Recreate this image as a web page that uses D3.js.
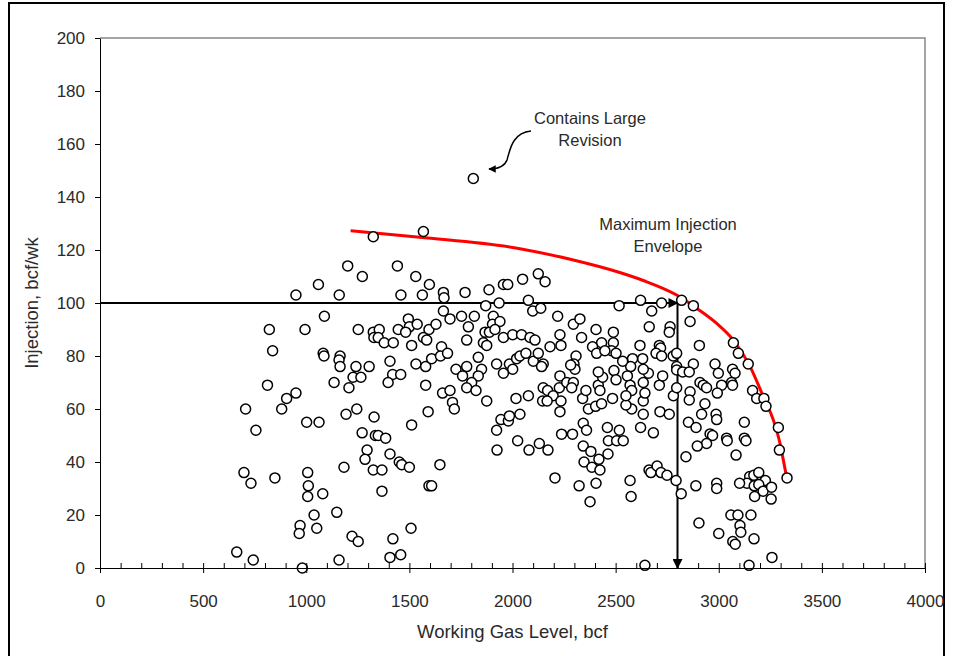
<!DOCTYPE html>
<html>
<head>
<meta charset="utf-8">
<script src="https://cdn.jsdelivr.net/npm/d3@7"></script>
<style>
  body { margin: 0; background: #fff; }
  svg { font-family: "Liberation Sans", Arial, sans-serif; }
  .axis text { font-size: 17px; fill: #2a2a2a; }
  .axis path, .axis line { stroke: #000; }
  .label { font-size: 18.5px; fill: #2a2a2a; }
  .note { font-size: 16.5px; fill: #2a2a2a; }
</style>
</head>
<body>
<svg width="953" height="656"></svg>
<script>
// working gas level (bcf) vs weekly injection (bcf/wk)
var gasLevel = [
  1325,1568,1201,1442,1272,1531,1597,1059,950,1160,1459,1563,1088,821,994,1252,1325,1354,1328,1349,1378,1422,1495,1500,1538,1446,1482,1595,1568,1584,1511,
  837,812,1082,1086,1164,1159,1164,1241,1305,1227,1265,1135,1207,1406,1419,1458,1397,1532,1579,1579,1591,950,905,881,706,756,1002,1062,1193,1245,1329,1511,1271,1335,1349,1385,1295,1406,
  698,732,848,1007,1010,1007,1080,1038,970,966,1051,1148,1183,1222,1252,663,743,981,1159,1420,1406,1458,1508,1367,1325,1367,1285,1451,1463,1500,1595,
  1665,1668,1770,1886,1956,1977,2049,2125,2158,2077,2098,2137,1870,1935,1665,2517,2219,2295,2327,2405,2489,1753,1697,1629,1786,1815,1907,1903,1939,1867,1888,1915,1956,2001,2044,2085,2109,2182,2230,2235,2335,2432,2489,2388,1778,1859,1875,
  1656,2480,1608,1651,1685,1834,1923,1985,2001,1956,2020,2036,2065,2101,2125,2149,2141,2308,2298,2303,2408,2448,2502,1726,1778,1850,1834,1758,1802,1778,1823,1661,1697,1709,1718,1875,2230,2227,2149,2170,2197,2263,2295,2287,2146,2168,2235,2230,2017,2077,2036,1944,1980,1985,1923,2025,2130,2238,2291,2343,2359,2343,2368,2403,2432,2485,2340,2356,2416,2424,2437,2416,2492,2502,2460,2465,2505,2380,2282,
  2621,2723,2675,2820,2877,2861,2663,2764,2760,2618,2712,2906,3071,
  2718,2696,2723,2779,2796,3095,3143,2982,2998,3067,3079,3062,3067,3014,2877,2796,2796,2825,2857,2909,2925,2941,2993,2861,2857,2780,2796,2933,2917,2987,2990,2853,2890,3124,3164,3184,3219,3229,3289,3294,2958,2970,2941,2896,3038,3041,3124,3132,3084,2841,2683,2621,2518,2537,2634,2715,2760,2578,2550,2634,2642,2634,2712,2728,2659,2634,2631,2582,2573,2534,2557,2570,2578,2550,
  1648,1608,2206,2323,2405,2376,2347,2385,2419,2424,2463,1925,2080,2172,
  2662,2671,2701,2720,2749,2793,2818,2570,2575,2904,2889,2990,2990,3000,3150,3170,3194,3226,3137,3101,3172,3194,3215,3256,3254,3174,3059,3093,3156,3103,3107,3068,3080,3171,3258,3147,2642,3331,
  1810
];
var injection = [
  125,127,114,114,110,110,107,107,103,103,103,103,95,90,90,90,89,90,87,87,85,85,94,91,92,90,89,90,87,86,84,
  82,69,81,80,80,78.5,76,76,76,72,72,70,68,78,73,73,70,77,76,69,59,66,64,60,60,52,55,55,58,60,57,54,51,50,50,49,44.5,43,
  36,32,34,36,31,27,28,20,16,13,15,21,38,12,10,6,3,0,3,11,4,5,15,29,37,37,41,40,39,38,31,
  104,102,104,105,107,107,109,111,108,101,97,98,99,100,97,99,95,92,94,90,89,95,94,92,91,95,95,92,93,89,89,90,87,88,88,87,86,83.5,88,84,87,85,85,83.5,86,85,84,
  83.5,82,79,80,81,79.5,77,77,75,73.5,79,80,81,78,81,77,76,80,77,75,81,82,81,75,76,75,72.5,72.5,70,68,67,66,67,62.5,60,63,72.5,68,68,67,65,70,70,68,63,63,63,59,64,65,58,56,55.5,57.4,52,48,47,50.5,50.5,54.6,52,46,60,61,62,64,64,67,69,67,72,74,74.5,71,53,48,48,44,76.6,
  101,100,97,101,99,93,91,91,89,84,84,84,85,
  83,81,80,80,81,81,77,77,73.5,75,73.5,70,69,69,77,76,74.7,74,74,70,69,68,66,66.5,63.4,65,68,62,58,58,56,55,53,55,67,64,64,61,53,44.5,50.6,50,47,46,49,48,49,48,42.6,42,51,53,52,48,58,59,58,60,61.5,63,66,70,69,72.5,73.5,75,79,79,76,78,72.5,69,67,65,
  39,31,34,31,32,25,40,38,41,37,43,44.5,44.5,44.5,
  37,36,38.5,36,35,33,28,33,27,17,31,32,30,13,34.5,35,36,33,32,32,31,31.5,29,30.5,26,27,20,20,20,16,13.5,10,9,11,4,1,1,34,
  147
];

// maximum injection envelope
var envelopeLevel = [1215,1550,2036,2280,2520,2634,2796,2893,2990,3071,3152,3216,3265,3297,3313,3332];
var envelopeInj = [127.3,124.8,120.5,116.5,111.5,108.5,103,98,92.3,86,76,64.7,55.8,47,40.8,33];

var xTicks = [0,500,1000,1500,2000,2500,3000,3500,4000];
var yTicks = [0,20,40,60,80,100,120,140,160,180,200];

var svg = d3.select("svg"),
    margin = {top: 38, right: 28, bottom: 88, left: 100},
    width = 953 - margin.left - margin.right,
    height = 656 - margin.top - margin.bottom;

// outer frame (bottom runs off the page)
svg.append("rect")
    .attr("x", 9).attr("y", 3)
    .attr("width", 935).attr("height", 700)
    .attr("fill", "none").attr("stroke", "#000").attr("stroke-width", 2);

var defs = svg.append("defs");
defs.append("marker")
    .attr("id", "head")
    .attr("viewBox", "0 0 10 10")
    .attr("refX", 9).attr("refY", 5)
    .attr("markerWidth", 6).attr("markerHeight", 5)
    .attr("markerUnits", "strokeWidth")
    .attr("orient", "auto")
  .append("path")
    .attr("d", "M0,0L10,5L0,10z")
    .attr("fill", "#000");

var g = svg.append("g").attr("transform", "translate(" + margin.left + "," + margin.top + ")");

var x = d3.scaleLinear().domain([0, 4000]).range([0, width]);
var y = d3.scaleLinear().domain([0, 200]).range([height, 0]);

// plot box
g.append("path")
    .attr("d", "M0,0H" + width + "V" + height)
    .attr("fill", "none").attr("stroke", "#888").attr("stroke-width", 1.5);

// reference arrows at 100 bcf/wk and 2800 bcf
g.append("path")
    .attr("d", "M" + x(0) + "," + y(100) + "H" + x(2800))
    .attr("stroke", "#000").attr("stroke-width", 2).attr("fill", "none")
    .attr("marker-end", "url(#head)");
g.append("path")
    .attr("d", "M" + x(2800) + "," + y(100) + "V" + y(0))
    .attr("stroke", "#000").attr("stroke-width", 2).attr("fill", "none")
    .attr("marker-end", "url(#head)");

var line = d3.line()
    .x(function(d) { return x(d[0]); })
    .y(function(d) { return y(d[1]); })
    .curve(d3.curveMonotoneX);

g.append("path")
    .datum(d3.zip(envelopeLevel, envelopeInj))
    .attr("fill", "none")
    .attr("stroke", "#ff0000")
    .attr("stroke-width", 3)
    .attr("d", line);

g.selectAll(".dot")
    .data(d3.zip(gasLevel, injection))
  .enter().append("circle")
    .attr("class", "dot")
    .attr("cx", function(d) { return x(d[0]); })
    .attr("cy", function(d) { return y(d[1]); })
    .attr("r", 5)
    .attr("fill", "#fff")
    .attr("stroke", "#000")
    .attr("stroke-width", 1.5);

// axes
g.append("g")
    .attr("class", "axis")
    .attr("transform", "translate(0," + height + ")")
    .call(d3.axisTop(x).tickValues(d3.range(0, 4001, 100)).tickSize(5).tickFormat(""))
    .call(function(s) { s.select(".domain").remove(); });

g.append("g")
    .attr("class", "axis")
    .attr("transform", "translate(0," + height + ")")
    .call(d3.axisBottom(x).tickValues(xTicks).tickSize(5).tickSizeOuter(0).tickPadding(22).tickFormat(d3.format("d")));

g.append("g")
    .attr("class", "axis")
    .call(d3.axisLeft(y).tickValues(yTicks).tickSize(5).tickSizeOuter(0).tickPadding(10));

g.append("text")
    .attr("class", "label")
    .attr("transform", "rotate(-90)")
    .attr("x", -height / 2)
    .attr("y", -62)
    .attr("text-anchor", "middle")
    .text("Injection, bcf/wk");

g.append("text")
    .attr("class", "label")
    .attr("x", width / 2)
    .attr("y", height + 70)
    .attr("text-anchor", "middle")
    .text("Working Gas Level, bcf");

// annotations
g.append("text").attr("class", "note").attr("text-anchor", "middle")
    .attr("x", 490).attr("y", 86).text("Contains Large");
g.append("text").attr("class", "note").attr("text-anchor", "middle")
    .attr("x", 490).attr("y", 108).text("Revision");
g.append("path")
    .attr("d", "M431,93C412,95 410,112 407,122C404,130 396,131 389,131")
    .attr("fill", "none").attr("stroke", "#000").attr("stroke-width", 1.5)
    .attr("marker-end", "url(#head)");

g.append("text").attr("class", "note").attr("text-anchor", "middle")
    .attr("x", 568).attr("y", 192).text("Maximum Injection");
g.append("text").attr("class", "note").attr("text-anchor", "middle")
    .attr("x", 568).attr("y", 214).text("Envelope");
</script>
</body>
</html>
